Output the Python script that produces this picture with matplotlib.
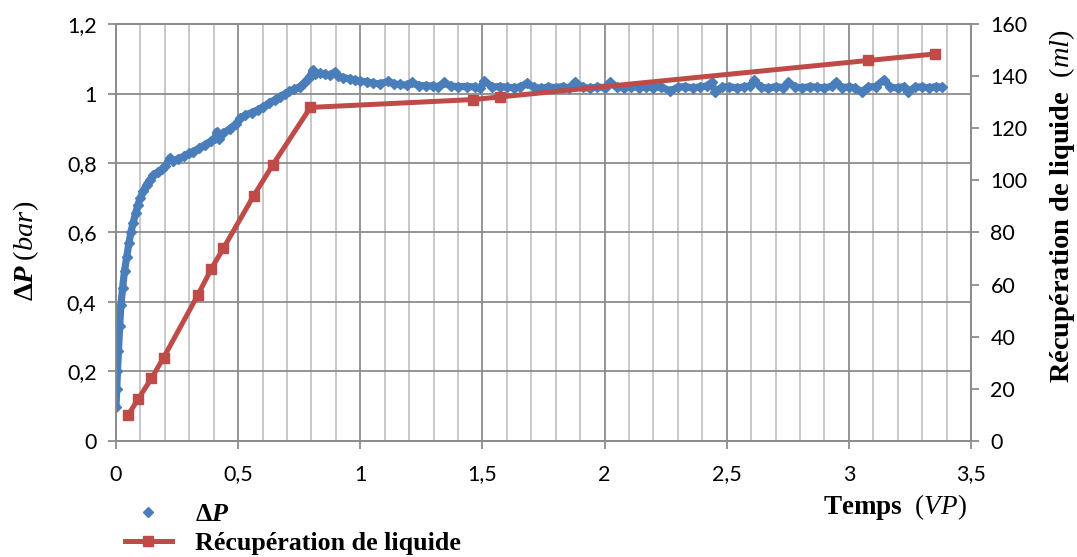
import matplotlib
matplotlib.use("Agg")
import matplotlib.pyplot as plt
from matplotlib.lines import Line2D
from matplotlib.ticker import MultipleLocator, FuncFormatter

plt.rcParams['mathtext.fontset'] = 'custom'
plt.rcParams['mathtext.rm'] = 'Liberation Serif'
plt.rcParams['mathtext.it'] = 'Liberation Serif:italic'
plt.rcParams['mathtext.bf'] = 'Liberation Serif:bold'
plt.rcParams['mathtext.bfit'] = 'Liberation Serif:italic:bold'

# pressure drop record, time in pore volumes
dp_time = [
  0.0, 0.003, 0.006, 0.01, 0.015, 0.02, 0.027, 0.035, 0.044, 0.053,
  0.061, 0.07, 0.08, 0.09, 0.1, 0.112, 0.125, 0.139, 0.153, 0.17,
  0.187, 0.2, 0.221, 0.235, 0.255, 0.28, 0.3, 0.316, 0.34, 0.365,
  0.39, 0.405, 0.412, 0.42, 0.44, 0.465, 0.49, 0.508, 0.53, 0.555,
  0.58, 0.603, 0.625, 0.65, 0.671, 0.69, 0.71, 0.73, 0.753, 0.77,
  0.785, 0.795, 0.805, 0.815, 0.835, 0.855, 0.875, 0.896, 0.91, 0.93,
  0.958, 0.98, 1.0, 1.026, 1.05, 1.08, 1.115, 1.14, 1.163, 1.19,
  1.21, 1.24, 1.27, 1.299, 1.32, 1.344, 1.37, 1.40, 1.436, 1.47,
  1.49, 1.508, 1.54, 1.572, 1.6, 1.63, 1.655, 1.681, 1.71, 1.74,
  1.77, 1.8, 1.83, 1.855, 1.879, 1.91, 1.94, 1.97, 2.0, 2.022,
  2.05, 2.08, 2.11, 2.14, 2.17, 2.2, 2.23, 2.268, 2.3, 2.33,
  2.36, 2.39, 2.42, 2.438, 2.452, 2.48, 2.51, 2.54, 2.57, 2.595,
  2.612, 2.64, 2.67, 2.7, 2.73, 2.752, 2.78, 2.81, 2.84, 2.87,
  2.9, 2.93, 2.946, 2.97, 3.0, 3.025, 3.052, 3.08, 3.11, 3.144,
  3.17, 3.2, 3.225, 3.243, 3.27, 3.3, 3.33, 3.355, 3.38,
]
dp_bar = [
  0.098, 0.15, 0.2, 0.26, 0.33, 0.39, 0.44, 0.49, 0.53, 0.57,
  0.60, 0.628, 0.655, 0.68, 0.70, 0.72, 0.738, 0.752, 0.765, 0.774,
  0.782, 0.79, 0.815, 0.806, 0.812, 0.82, 0.828, 0.833, 0.842, 0.853,
  0.864, 0.872, 0.89, 0.868, 0.886, 0.898, 0.912, 0.929, 0.938, 0.945,
  0.953, 0.962, 0.972, 0.982, 0.991, 0.998, 1.006, 1.012, 1.02, 1.03,
  1.042, 1.05, 1.068, 1.056, 1.058, 1.056, 1.052, 1.062, 1.049, 1.046,
  1.042, 1.038, 1.035, 1.034, 1.03, 1.028, 1.035, 1.027, 1.026, 1.024,
  1.032, 1.023, 1.022, 1.022, 1.019, 1.032, 1.021, 1.02, 1.02, 1.019,
  1.016, 1.036, 1.019, 1.02, 1.018, 1.017, 1.019, 1.029, 1.018, 1.015,
  1.019, 1.017, 1.02, 1.016, 1.033, 1.018, 1.015, 1.019, 1.017, 1.032,
  1.018, 1.016, 1.02, 1.017, 1.019, 1.016, 1.02, 1.007, 1.018, 1.02,
  1.016, 1.019, 1.022, 1.032, 1.004, 1.018, 1.02, 1.016, 1.019, 1.022,
  1.038, 1.018, 1.015, 1.02, 1.017, 1.032, 1.019, 1.016, 1.02, 1.018,
  1.016, 1.021, 1.032, 1.017, 1.019, 1.016, 1.005, 1.019, 1.02, 1.04,
  1.018, 1.016, 1.02, 1.005, 1.018, 1.019, 1.016, 1.02, 1.018,
]

# cumulative liquid recovered
rec_time = [0.05, 0.09, 0.145, 0.195, 0.335, 0.39, 0.44, 0.563, 0.642, 0.796,
            1.46, 1.57, 3.078, 3.352]
rec_ml = [10, 16, 24, 32, 56, 66, 74, 94, 106, 128,
          131, 132, 146, 148.5]

BLUE = '#4a7ebb'
RED = '#be4b48'
GRID_DARK = '#8c8c8c'
GRID_LIGHT = '#c4c4c4'
SERIF = 'Liberation Serif'
TICK_FONT = 'Lato'


def comma(v, pos):
  return ('%g' % v).replace('.', ',')


fig = plt.figure(figsize=(10.77, 5.57), dpi=100)
ax = fig.add_axes([0.1077, 0.2083, 0.7939, 0.7486])
ax2 = ax.twinx()

ax.plot(dp_time, dp_bar, color=BLUE, lw=5.2, marker='D', ms=5.5,
        mec=BLUE, mfc=BLUE, solid_capstyle='round', solid_joinstyle='round',
        zorder=3)
ax2.plot(rec_time, rec_ml, color=RED, lw=3.6, marker='s', ms=7,
         mec=RED, mfc=RED, zorder=3)

ax.set_xlim(0, 3.5)
ax.set_ylim(0, 1.2)
ax2.set_ylim(0, 160)

ax.xaxis.set_major_locator(MultipleLocator(0.5))
ax.xaxis.set_minor_locator(MultipleLocator(0.1))
ax.yaxis.set_major_locator(MultipleLocator(0.2))
ax2.yaxis.set_major_locator(MultipleLocator(20))
ax.xaxis.set_major_formatter(FuncFormatter(comma))
ax.yaxis.set_major_formatter(FuncFormatter(comma))

ax.grid(which='minor', axis='x', color=GRID_LIGHT, lw=1.3)
ax.grid(which='major', axis='x', color=GRID_DARK, lw=1.3)
ax.grid(which='major', axis='y', color=GRID_DARK, lw=1.3)
ax.set_axisbelow(True)

for a in (ax, ax2):
  for s in a.spines.values():
    s.set_color(GRID_DARK)
    s.set_linewidth(1.3)
  a.tick_params(which='major', length=6, width=1.3, color=GRID_DARK,
                labelsize=15.5, pad=8)
  a.tick_params(which='minor', length=0)
  for lbl in a.get_xticklabels() + a.get_yticklabels():
    lbl.set_family(TICK_FONT)

ax.tick_params(axis='x', pad=11)

fig.text(0.024, 0.55, r'$\mathbf{\Delta}\mathbfit{P}\;(\mathit{bar})$',
         rotation=90, ha='center', va='center', fontsize=20.5)
fig.text(0.986, 0.63, r'Récupération de liquide  $(\mathit{ml})$',
         rotation=90, ha='center', va='center', fontsize=20.5,
         family=SERIF, weight='bold')
fig.text(0.898, 0.089, r'Temps  $(\mathit{VP})$', ha='right', va='center',
         fontsize=19.5, family=SERIF, weight='bold')

handles = [
  Line2D([], [], ls='none', marker='D', ms=5, color=BLUE),
  Line2D([], [], color=RED, lw=3.6, marker='s', ms=7),
]
fig.legend(handles, [r'$\mathbf{\Delta}\mathbfit{P}$', 'Récupération de liquide'],
           loc='upper left', bbox_to_anchor=(0.104, 0.12), frameon=False,
           handlelength=1.8, handletextpad=0.9, labelspacing=0.2,
           borderpad=0, prop={'family': SERIF, 'weight': 'bold', 'size': 18.7})

fig.savefig('out.png', dpi=100)
